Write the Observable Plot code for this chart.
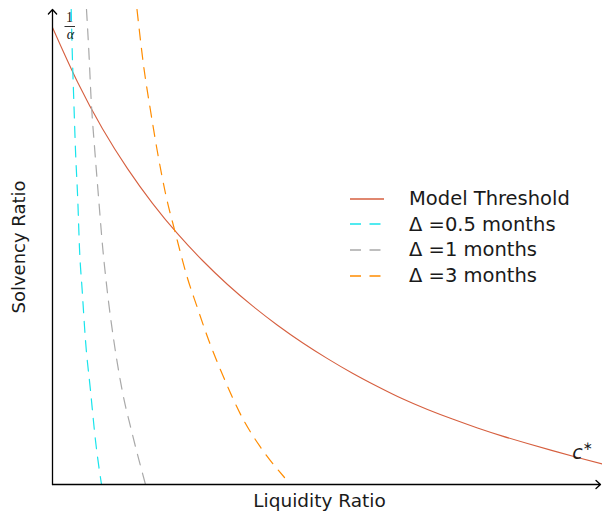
<!DOCTYPE html>
<html><head><meta charset="utf-8">
<script src="https://cdn.jsdelivr.net/npm/d3@7"></script>
<script src="https://cdn.jsdelivr.net/npm/@observablehq/plot@0.6"></script>
<style>
body{margin:0;background:#fff;font-family:"DejaVu Sans",sans-serif;}
#wrap{position:relative;width:602px;height:515px;}
#legend{position:absolute;left:350px;top:186px;font-size:19.5px;color:#1a1a1a;}
.row{height:25.6px;display:flex;align-items:center;white-space:nowrap;}
.row svg{margin-right:25px;display:block;flex:none;}
</style></head><body><div id="wrap"></div>
<script>
// Model threshold (solid red)
const thresholdX = [0, 0.25, 0.5, 0.75, 1.0, 1.25, 1.5, 1.75, 2.0, 2.25, 2.5, 2.75, 3.0, 3.25, 3.5, 3.75, 4.0, 4.25, 4.5, 4.75, 5.0, 5.25, 5.5];
const thresholdY = [4.57, 4.025, 3.558, 3.159, 2.812, 2.508, 2.24, 2.0, 1.786, 1.593, 1.418, 1.259, 1.113, 0.98, 0.857, 0.75, 0.654, 0.565, 0.484, 0.41, 0.339, 0.27, 0.205];
// Delta = 0.5 months (cyan dashed)
const d05X = [0.187, 0.197, 0.213, 0.23, 0.253, 0.27, 0.297, 0.33, 0.38, 0.43, 0.49];
const d05Y = [4.75, 4.34, 3.84, 3.34, 2.84, 2.36, 1.94, 1.44, 0.94, 0.44, 0.0];
// Delta = 1 month (gray dashed)
const d1X = [0.34, 0.363, 0.387, 0.423, 0.463, 0.50, 0.547, 0.613, 0.697, 0.797, 0.93];
const d1Y = [4.75, 4.34, 3.84, 3.34, 2.84, 2.39, 1.94, 1.44, 0.94, 0.51, 0.0];
// Delta = 3 months (orange dashed)
const d3X = [0.845, 0.913, 0.98, 1.047, 1.13, 1.23, 1.347, 1.447, 1.563, 1.725, 1.895, 2.08, 2.32];
const d3Y = [4.75, 4.173, 3.74, 3.34, 2.91, 2.51, 2.073, 1.773, 1.44, 1.04, 0.673, 0.373, 0.07];

const seriesNames = ["Model Threshold", "Δ =0.5 months", "Δ =1 months", "Δ =3 months"];
const seriesColors = ["#d65f3f", "#18e4ec", "#a9a9a9", "#ff8c00"];
const seriesDash = [null, "11,8.5", "11,8.5", "11,8.5"];
const xs = [thresholdX, d05X, d1X, d3X];
const ys = [thresholdY, d05Y, d1Y, d3Y];

const rows = [];
seriesNames.forEach((name, k) => xs[k].forEach((x, i) => rows.push({series: name, x, y: ys[k][i]})));

const axesLines = [{x1: 0, y1: 0, x2: 5.48, y2: 0}, {x1: 0, y1: 0, x2: 0, y2: 4.75}];
const fracNum = [{x: 0.17, y: 4.665, t: "1"}];
const fracBar = [{x1: 0.125, x2: 0.23, y: 4.58}];
const fracDen = [{x: 0.18, y: 4.5, t: "α"}];
const cLabel = [{x: 5.25, y: 0.32, t: "c"}];
const cStar = [{x: 5.35, y: 0.385, t: "∗"}];

const lineMarks = seriesNames.map((name, k) => Plot.line(rows.filter(d => d.series === name), {
  x: "x", y: "y", curve: k === 0 ? "natural" : "monotone-x", stroke: seriesColors[k],
  strokeWidth: k === 0 ? 1.1 : 1.2, strokeDasharray: seriesDash[k], clip: true
}));

const chart = Plot.plot({
  width: 602, height: 515,
  marginLeft: 52, marginRight: 0, marginTop: 9, marginBottom: 31,
  x: {domain: [0, 5.5], axis: null},
  y: {domain: [0, 4.75], axis: null},
  style: {fontFamily: "DejaVu Sans, sans-serif", background: "white"},
  marks: [
    ...lineMarks,
    Plot.arrow(axesLines, {x1: "x1", y1: "y1", x2: "x2", y2: "y2", stroke: "black", strokeWidth: 1.3, headLength: 7, headAngle: 85}),
    Plot.text(fracNum, {x: "x", y: "y", text: "t", fontSize: 14, fontFamily: "Liberation Serif, serif", fill: "#1a1a1a"}),
    Plot.ruleY(fracBar, {y: "y", x1: "x1", x2: "x2", stroke: "#1a1a1a", strokeWidth: 0.9}),
    Plot.text(fracDen, {x: "x", y: "y", text: "t", fontSize: 14, fontStyle: "italic", fontFamily: "Liberation Serif, serif", fill: "#1a1a1a"}),
    Plot.text(cLabel, {x: "x", y: "y", text: "t", fontSize: 19, fontStyle: "italic", fill: "#1a1a1a"}),
    Plot.text(cStar, {x: "x", y: "y", text: "t", fontSize: 12, fill: "#1a1a1a"}),
    Plot.text(["Liquidity Ratio"], {frameAnchor: "bottom", lineAnchor: "middle", dy: 16.5, dx: -8, fontSize: 18.5, fill: "#1a1a1a"}),
    Plot.text(["Solvency Ratio"], {frameAnchor: "left", textAnchor: "middle", lineAnchor: "middle", dx: -33, rotate: -90, fontSize: 18, fill: "#1a1a1a"})
  ]
});
const wrap = document.getElementById("wrap");
wrap.appendChild(chart);

const legend = document.createElement("div");
legend.id = "legend";
seriesNames.forEach((name, k) => {
  const row = document.createElement("div");
  row.className = "row";
  const dash = seriesDash[k] ? `stroke-dasharray:${seriesDash[k]};` : "";
  row.innerHTML = `<svg width="34" height="12"><line x1="0" x2="34" y1="6" y2="6" style="stroke:${seriesColors[k]};stroke-width:1.3;${dash}"></line></svg><span>${name}</span>`;
  legend.appendChild(row);
});
wrap.appendChild(legend);
</script>
</body></html>
